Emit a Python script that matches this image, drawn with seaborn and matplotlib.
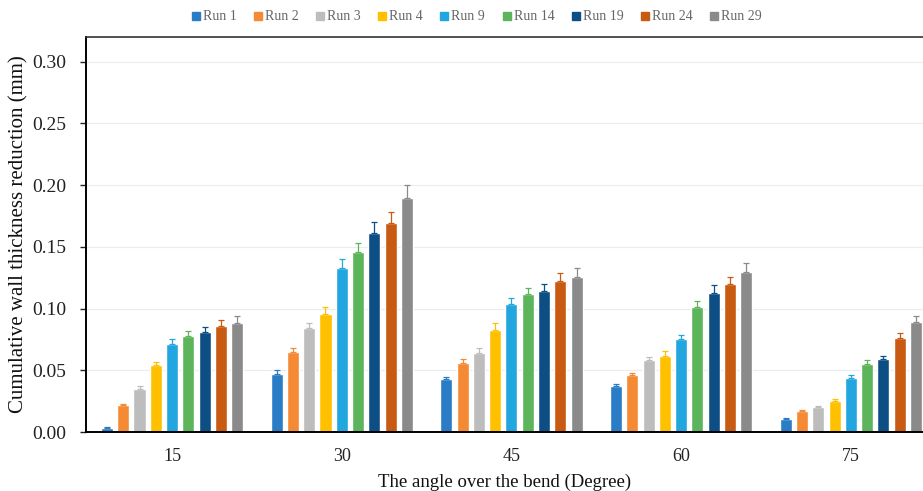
import numpy as np
import pandas as pd
import matplotlib
matplotlib.use("Agg")
import matplotlib.pyplot as plt
import seaborn as sns

angles = ["15", "30", "45", "60", "75"]
runs = ["Run 1", "Run 2", "Run 3", "Run 4", "Run 9", "Run 14", "Run 19", "Run 24", "Run 29"]

# mean wall thickness reduction per run, one value per angle
run1 = [0.003, 0.047, 0.043, 0.037, 0.0105]
run2 = [0.022, 0.065, 0.056, 0.046, 0.017]
run3 = [0.035, 0.084, 0.064, 0.058, 0.020]
run4 = [0.054, 0.096, 0.083, 0.062, 0.025]
run9 = [0.071, 0.133, 0.104, 0.075, 0.044]
run14 = [0.078, 0.146, 0.112, 0.101, 0.055]
run19 = [0.081, 0.161, 0.114, 0.113, 0.059]
run24 = [0.086, 0.169, 0.122, 0.120, 0.076]
run29 = [0.088, 0.190, 0.126, 0.130, 0.089]

# error bars
err1 = [0.001, 0.003, 0.002, 0.002, 0.001]
err2 = [0.001, 0.003, 0.003, 0.002, 0.001]
err3 = [0.002, 0.004, 0.004, 0.003, 0.001]
err4 = [0.003, 0.005, 0.005, 0.004, 0.002]
err9 = [0.004, 0.007, 0.005, 0.004, 0.002]
err14 = [0.004, 0.007, 0.005, 0.005, 0.003]
err19 = [0.004, 0.009, 0.006, 0.006, 0.003]
err24 = [0.005, 0.009, 0.007, 0.006, 0.004]
err29 = [0.006, 0.010, 0.007, 0.007, 0.005]

colors = ["#2a7cc6", "#f58a35", "#bdbdbd", "#ffc000", "#22a6e0",
          "#5cb55a", "#0d4f85", "#c95a12", "#8a8a8a"]

values = [run1, run2, run3, run4, run9, run14, run19, run24, run29]
errors = [err1, err2, err3, err4, err9, err14, err19, err24, err29]

rows = []
for r, vals, errs in zip(runs, values, errors):
    for a, v, e in zip(angles, vals, errs):
        rows.append({"angle": a, "run": r, "value": v, "err": e})
df = pd.DataFrame(rows)

sns.set_style("white")
plt.rcParams["font.family"] = ["Liberation Serif", "DejaVu Serif"]

fig = plt.figure(figsize=(9.23, 4.91), dpi=100)
ax = fig.add_axes([0.0932, 0.120, 0.9068, 0.8045])

sns.barplot(data=df, x="angle", y="value", hue="run", order=angles, hue_order=runs,
            palette=colors, saturation=1, errorbar=None, width=0.863, gap=0.26,
            ax=ax, legend=False)

# error bars on top of each bar
for cont, r, col in zip(ax.containers, runs, colors):
    sub = df[df["run"] == r].set_index("angle").loc[angles]
    xs = [p.get_x() + p.get_width() / 2 for p in cont.patches]
    ax.errorbar(xs, sub["value"], yerr=[np.zeros(len(xs)), sub["err"]], fmt="none",
                ecolor=col, elinewidth=0.9, capsize=2, capthick=0.9, zorder=3)

ax.set_ylim(0, 0.32)
ax.set_yticks(np.arange(0, 0.31, 0.05))
ax.set_yticklabels([f"{t:.2f}" for t in np.arange(0, 0.31, 0.05)])
ax.set_xlim(-0.507, 4.425)
ax.yaxis.grid(True, color="#ececec", linewidth=0.8)
ax.set_axisbelow(True)

for s in ["left", "bottom"]:
    ax.spines[s].set_color("black")
    ax.spines[s].set_linewidth(1.4)
ax.spines["top"].set_color("#333333")
ax.spines["top"].set_linewidth(1.2)
ax.spines["right"].set_visible(False)

ax.tick_params(axis="y", which="major", direction="out", left=True, length=4,
               width=1, labelsize=14, colors="#222222", pad=10)
ax.tick_params(axis="x", bottom=False, labelsize=13, colors="#222222", pad=8)

ax.set_xlabel("The angle over the bend (Degree)", fontsize=13.5, labelpad=6, color="#111111")
ax.set_ylabel("Cumulative wall thickness reduction (mm)", fontsize=15, labelpad=3, color="#111111")

handles = [plt.Line2D([], [], marker="s", linestyle="none", markersize=5.5,
                      markerfacecolor=c, markeredgecolor=c) for c in colors]
leg = fig.legend(handles, runs, loc="center", bbox_to_anchor=(476 / 923, 1 - 17 / 491),
                 ncol=9, frameon=False, fontsize=10, handletextpad=0.1,
                 columnspacing=1.15, handlelength=0.8)
for t in leg.get_texts():
    t.set_color("#666666")

fig.savefig("out.png", dpi=100)
